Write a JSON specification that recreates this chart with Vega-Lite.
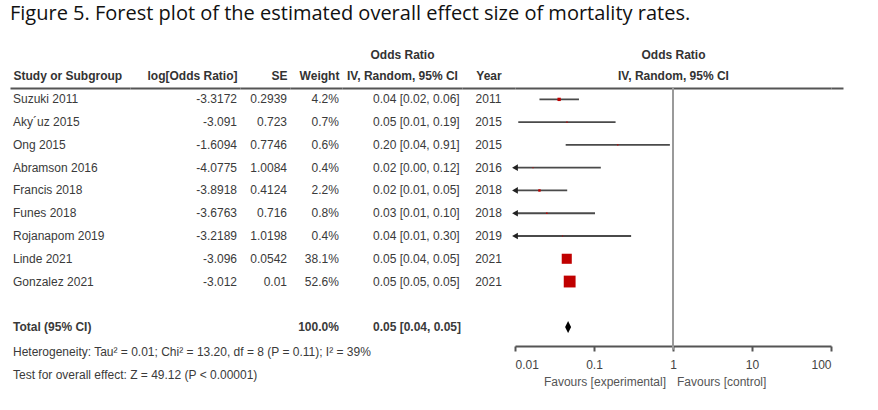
{
  "$schema": "https://vega.github.io/schema/vega-lite/v6.json",
  "padding": {"left": 10, "top": 4, "right": 5, "bottom": 5},
  "bounds": "flush",
  "spacing": 0,
  "title": {"text": "Figure 5. Forest plot of the estimated overall effect size of mortality rates.", "anchor": "start", "font": "Open Sans", "fontSize": 20, "fontWeight": "normal", "color": "#111", "offset": 24},
  "datasets": {
    "rows": [
      {"row": "Suzuki 2011", "label": "Suzuki 2011", "kind": "study", "logOR": "-3.3172", "se": "0.2939", "weight": "4.2%", "w": 4.2, "ci": "0.04 [0.02, 0.06]", "year": "2011", "or": 0.0362, "lo": 0.0204, "hi": 0.0645},
      {"row": "Aky´uz 2015", "label": "Aky´uz 2015", "kind": "study", "logOR": "-3.091", "se": "0.723", "weight": "0.7%", "w": 0.7, "ci": "0.05 [0.01, 0.19]", "year": "2015", "or": 0.0455, "lo": 0.011, "hi": 0.1875},
      {"row": "Ong 2015", "label": "Ong 2015", "kind": "study", "logOR": "-1.6094", "se": "0.7746", "weight": "0.6%", "w": 0.6, "ci": "0.20 [0.04, 0.91]", "year": "2015", "or": 0.2, "lo": 0.0438, "hi": 0.913},
      {"row": "Abramson 2016", "label": "Abramson 2016", "kind": "study", "logOR": "-4.0775", "se": "1.0084", "weight": "0.4%", "w": 0.4, "ci": "0.02 [0.00, 0.12]", "year": "2016", "or": 0.0169, "lo": 0.0023, "hi": 0.122},
      {"row": "Francis 2018", "label": "Francis 2018", "kind": "study", "logOR": "-3.8918", "se": "0.4124", "weight": "2.2%", "w": 2.2, "ci": "0.02 [0.01, 0.05]", "year": "2018", "or": 0.0204, "lo": 0.0091, "hi": 0.0458},
      {"row": "Funes 2018", "label": "Funes 2018", "kind": "study", "logOR": "-3.6763", "se": "0.716", "weight": "0.8%", "w": 0.8, "ci": "0.03 [0.01, 0.10]", "year": "2018", "or": 0.0253, "lo": 0.0062, "hi": 0.103},
      {"row": "Rojanapom 2019", "label": "Rojanapom 2019", "kind": "study", "logOR": "-3.2189", "se": "1.0198", "weight": "0.4%", "w": 0.4, "ci": "0.04 [0.01, 0.30]", "year": "2019", "or": 0.04, "lo": 0.0054, "hi": 0.295},
      {"row": "Linde 2021", "label": "Linde 2021", "kind": "study", "logOR": "-3.096", "se": "0.0542", "weight": "38.1%", "w": 38.1, "ci": "0.05 [0.04, 0.05]", "year": "2021", "or": 0.0452, "lo": 0.0407, "hi": 0.0503},
      {"row": "Gonzalez 2021", "label": "Gonzalez 2021", "kind": "study", "logOR": "-3.012", "se": "0.01", "weight": "52.6%", "w": 52.6, "ci": "0.05 [0.05, 0.05]", "year": "2021", "or": 0.0492, "lo": 0.0482, "hi": 0.0502},
      {"row": "Total (95% CI)", "label": "Total (95% CI)", "kind": "total", "weight": "100.0%", "ci": "0.05 [0.04, 0.05]", "or": 0.047, "lo": 0.045, "hi": 0.049},
      {"row": "Heterogeneity", "label": "Heterogeneity: Tau² = 0.01; Chi² = 13.20, df = 8 (P = 0.11); I² = 39%", "kind": "note"},
      {"row": "Test", "label": "Test for overall effect: Z = 49.12 (P < 0.00001)", "kind": "note"}
    ]
  },
  "data": {"name": "rows"},
  "resolve": {"scale": {"x": "independent", "y": "independent"}},
  "hconcat": [
    {
      "width": 120, "height": 296,
      "encoding": {
        "x": {"datum": "Study or Subgroup", "type": "nominal", "scale": {"type": "point", "align": 0.025}, "axis": {"orient": "top", "labelAlign": "left", "title": null}},
        "y": {"field": "row", "type": "nominal", "scale": {"type": "band", "paddingInner": 0, "paddingOuter": 0, "domain": ["Suzuki 2011", "Aky´uz 2015", "Ong 2015", "Abramson 2016", "Francis 2018", "Funes 2018", "Rojanapom 2019", "Linde 2021", "Gonzalez 2021", "blank", "Total (95% CI)", "Heterogeneity", "Test"]}, "axis": null}
      },
      "layer": [
        {"transform": [{"filter": "datum.kind == 'study'"}], "mark": {"type": "text", "align": "left"}, "encoding": {"text": {"field": "label"}}},
        {"transform": [{"filter": "datum.kind == 'note'"}], "mark": {"type": "text", "align": "left", "dy": 2}, "encoding": {"text": {"field": "label"}}},
        {"transform": [{"filter": "datum.kind == 'total'"}], "mark": {"type": "text", "align": "left", "fontWeight": "bold"}, "encoding": {"text": {"field": "label"}}}
      ]
    },
    {
      "width": 110, "height": 296,
      "transform": [{"filter": "isValid(datum.logOR)"}],
      "mark": {"type": "text", "align": "right"},
      "encoding": {
        "x": {"datum": "log[Odds Ratio]", "type": "nominal", "scale": {"type": "point", "align": 0.973}, "axis": {"orient": "top", "labelAlign": "right", "title": null}},
        "y": {"field": "row", "type": "nominal", "scale": {"type": "band", "paddingInner": 0, "paddingOuter": 0, "domain": ["Suzuki 2011", "Aky´uz 2015", "Ong 2015", "Abramson 2016", "Francis 2018", "Funes 2018", "Rojanapom 2019", "Linde 2021", "Gonzalez 2021", "blank", "Total (95% CI)", "Heterogeneity", "Test"]}, "axis": null},
        "text": {"field": "logOR"}
      }
    },
    {
      "width": 50, "height": 296,
      "transform": [{"filter": "isValid(datum.se)"}],
      "mark": {"type": "text", "align": "right"},
      "encoding": {
        "x": {"datum": "SE", "type": "nominal", "scale": {"type": "point", "align": 0.94}, "axis": {"orient": "top", "labelAlign": "right", "title": null}},
        "y": {"field": "row", "type": "nominal", "scale": {"type": "band", "paddingInner": 0, "paddingOuter": 0, "domain": ["Suzuki 2011", "Aky´uz 2015", "Ong 2015", "Abramson 2016", "Francis 2018", "Funes 2018", "Rojanapom 2019", "Linde 2021", "Gonzalez 2021", "blank", "Total (95% CI)", "Heterogeneity", "Test"]}, "axis": null},
        "text": {"field": "se"}
      }
    },
    {
      "width": 52, "height": 296,
      "encoding": {
        "x": {"datum": "Weight", "type": "nominal", "scale": {"type": "point", "align": 0.94}, "axis": {"orient": "top", "labelAlign": "right", "title": null}},
        "y": {"field": "row", "type": "nominal", "scale": {"type": "band", "paddingInner": 0, "paddingOuter": 0, "domain": ["Suzuki 2011", "Aky´uz 2015", "Ong 2015", "Abramson 2016", "Francis 2018", "Funes 2018", "Rojanapom 2019", "Linde 2021", "Gonzalez 2021", "blank", "Total (95% CI)", "Heterogeneity", "Test"]}, "axis": null},
        "text": {"field": "weight"}
      },
      "layer": [
        {"transform": [{"filter": "datum.kind == 'study'"}], "mark": {"type": "text", "align": "right"}},
        {"transform": [{"filter": "datum.kind == 'total'"}], "mark": {"type": "text", "align": "right", "fontWeight": "bold"}}
      ]
    },
    {
      "width": 120, "height": 296,
      "encoding": {
        "x": {"datum": "ci", "type": "nominal", "scale": {"type": "point", "align": 0.258}, "axis": {"orient": "top", "labels": false, "title": ["Odds Ratio", "IV, Random, 95% CI"]}},
        "y": {"field": "row", "type": "nominal", "scale": {"type": "band", "paddingInner": 0, "paddingOuter": 0, "domain": ["Suzuki 2011", "Aky´uz 2015", "Ong 2015", "Abramson 2016", "Francis 2018", "Funes 2018", "Rojanapom 2019", "Linde 2021", "Gonzalez 2021", "blank", "Total (95% CI)", "Heterogeneity", "Test"]}, "axis": null},
        "text": {"field": "ci"}
      },
      "layer": [
        {"transform": [{"filter": "datum.kind == 'study'"}], "mark": {"type": "text", "align": "left"}},
        {"transform": [{"filter": "datum.kind == 'total'"}], "mark": {"type": "text", "align": "left", "fontWeight": "bold"}}
      ]
    },
    {
      "width": 53, "height": 296,
      "transform": [{"filter": "isValid(datum.year)"}],
      "mark": {"type": "text", "align": "center"},
      "encoding": {
        "x": {"datum": "Year", "type": "nominal", "scale": {"type": "point", "align": 0.5}, "axis": {"orient": "top", "labelAlign": "center", "title": null}},
        "y": {"field": "row", "type": "nominal", "scale": {"type": "band", "paddingInner": 0, "paddingOuter": 0, "domain": ["Suzuki 2011", "Aky´uz 2015", "Ong 2015", "Abramson 2016", "Francis 2018", "Funes 2018", "Rojanapom 2019", "Linde 2021", "Gonzalez 2021", "blank", "Total (95% CI)", "Heterogeneity", "Test"]}, "axis": null},
        "text": {"field": "year"}
      }
    },
    {
      "width": 316, "height": 296,
      "encoding": {
        "y": {"field": "row", "type": "nominal", "scale": {"type": "band", "paddingInner": 0, "paddingOuter": 0, "domain": ["Suzuki 2011", "Aky´uz 2015", "Ong 2015", "Abramson 2016", "Francis 2018", "Funes 2018", "Rojanapom 2019", "Linde 2021", "Gonzalez 2021", "blank", "Total (95% CI)", "Heterogeneity", "Test"]}, "axis": null}
      },
      "layer": [
        {
          "data": {"values": [{"line": "no effect"}]},
          "mark": {"type": "rule", "color": "#9a9a9a", "strokeWidth": 2},
          "encoding": {
            "x": {"datum": 1, "type": "quantitative", "scale": {"type": "log", "domain": [0.01, 100], "clamp": true, "nice": false}, "axis": {"orient": "top", "labels": false, "ticks": false, "title": ["Odds Ratio", "IV, Random, 95% CI"]}},
            "y": {"datum": "Suzuki 2011", "bandPosition": 0},
            "y2": {"datum": "Heterogeneity"}
          }
        },
        {
          "transform": [{"filter": "datum.kind == 'study'"}],
          "mark": {"type": "rule", "color": "#4a4a4a", "strokeWidth": 1.8},
          "encoding": {
            "x": {"field": "lo", "type": "quantitative", "scale": {"type": "log", "domain": [0.01, 100], "clamp": true, "nice": false}, "axis": {"orient": "bottom", "values": [0.01, 0.1, 1, 10, 100], "format": "~g", "offset": -38, "ticks": true, "tickSize": 5, "tickColor": "#555", "tickWidth": 2, "labelFontWeight": "normal", "labelColor": "#444", "labelPadding": 8, "labelFlush": true, "title": null}},
            "x2": {"field": "hi"}
          }
        },
        {
          "transform": [{"filter": "datum.kind == 'study' && datum.lo < 0.01"}],
          "mark": {"type": "point", "shape": "triangle-left", "filled": true, "color": "#222", "size": 45, "opacity": 1},
          "encoding": {"x": {"field": "lo", "type": "quantitative", "axis": null}}
        },
        {
          "transform": [{"filter": "datum.kind == 'study'"}],
          "mark": {"type": "square", "color": "#c00000", "opacity": 1},
          "encoding": {
            "x": {"field": "or", "type": "quantitative", "axis": null},
            "size": {"field": "w", "type": "quantitative", "scale": {"domain": [0, 52.6], "range": [0, 140]}, "legend": null}
          }
        },
        {
          "transform": [{"filter": "datum.kind == 'total'"}],
          "mark": {"type": "point", "shape": "M0,-1L0.5,0L0,1L-0.5,0Z", "filled": true, "color": "#000", "size": 144, "opacity": 1},
          "encoding": {"x": {"field": "or", "type": "quantitative", "axis": null}}
        },
        {
          "data": {"values": [{"label": "Favours [experimental]"}]},
          "mark": {"type": "text", "align": "right", "dx": -7, "dy": 9, "color": "#555"},
          "encoding": {"x": {"datum": 1, "type": "quantitative", "axis": null}, "y": {"datum": "Test"}, "text": {"field": "label"}}
        },
        {
          "data": {"values": [{"label": "Favours [control]"}]},
          "mark": {"type": "text", "align": "left", "dx": 4, "dy": 9, "color": "#555"},
          "encoding": {"x": {"datum": 1, "type": "quantitative", "axis": null}, "y": {"datum": "Test"}, "text": {"field": "label"}}
        }
      ],
      "resolve": {"axis": {"x": "independent"}}
    },
    {
      "width": 12, "height": 296,
      "mark": {"type": "text", "text": ""},
      "encoding": {
        "x": {"datum": "end", "type": "nominal", "scale": {"type": "point"}, "axis": {"orient": "top", "labels": false, "title": null}}
      }
    }
  ],
  "config": {
    "view": {"stroke": null},
    "text": {"font": "Liberation Sans", "fontSize": 12, "color": "#3a3a3a"},
    "axis": {"labelFont": "Liberation Sans", "titleFont": "Liberation Sans", "labelFontSize": 12, "titleFontSize": 12, "labelColor": "#333", "titleColor": "#333", "labelFontWeight": "bold", "titleFontWeight": "bold", "grid": false, "ticks": false, "tickSize": 0, "domainColor": "#555", "domainWidth": 2, "labelAngle": 0, "labelPadding": 6, "titlePadding": 6, "titleLineHeight": 21}
  }
}
